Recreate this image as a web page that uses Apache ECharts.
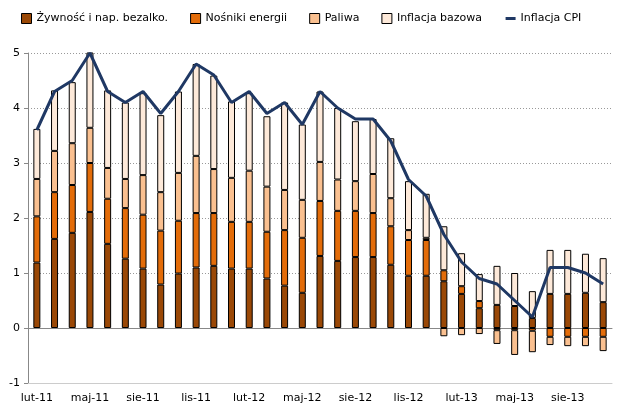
<!DOCTYPE html>
<html><head><meta charset="utf-8">
<script src="https://cdn.jsdelivr.net/npm/echarts@6/dist/echarts.min.js"></script>
<style>html,body{margin:0;padding:0;background:#fff}#c{width:622px;height:415px}</style>
</head><body><div id="c"></div>
<script>
const categories = ['lut-11','mar-11','kwi-11','maj-11','cze-11','lip-11','sie-11','wrz-11','paź-11','lis-11','gru-11',
'sty-12','lut-12','mar-12','kwi-12','maj-12','cze-12','lip-12','sie-12','wrz-12','paź-12','lis-12','gru-12',
'sty-13','lut-13','mar-13','kwi-13','maj-13','cze-13','lip-13','sie-13','wrz-13','paź-13'];
const food   = [1.19,1.62,1.73,2.11,1.53,1.26,1.08,0.79,0.99,1.10,1.13,1.08,1.08,0.90,0.77,0.64,1.31,1.22,1.29,1.29,1.15,0.95,0.95,0.85,0.62,0.36,0.42,0.40,0.18,0.62,0.62,0.64,0.47];
const energy = [0.84,0.85,0.87,0.89,0.82,0.92,0.98,0.98,0.96,0.99,0.96,0.85,0.85,0.85,1.01,1.00,1.00,0.91,0.84,0.80,0.70,0.65,0.65,0.20,0.14,0.13,-0.04,-0.04,-0.05,-0.16,-0.16,-0.16,-0.16];
const fuel   = [0.68,0.75,0.76,0.64,0.56,0.53,0.72,0.70,0.87,1.04,0.80,0.80,0.93,0.82,0.73,0.69,0.71,0.57,0.54,0.71,0.51,0.18,0.04,-0.15,-0.13,-0.11,-0.25,-0.45,-0.39,-0.15,-0.17,-0.17,-0.26];
const core   = [0.91,1.10,1.11,1.39,1.41,1.39,1.49,1.40,1.48,1.67,1.70,1.39,1.41,1.28,1.59,1.37,1.28,1.30,1.09,1.00,1.09,0.89,0.80,0.80,0.60,0.49,0.71,0.60,0.49,0.80,0.80,0.71,0.80];
const cpi    = [3.6,4.3,4.5,5.0,4.3,4.1,4.3,3.9,4.3,4.8,4.6,4.1,4.3,3.9,4.1,3.7,4.3,4.0,3.8,3.8,3.4,2.7,2.4,1.7,1.2,0.9,0.8,0.5,0.2,1.1,1.1,1.0,0.8];
const yTicks = [-1,0,1,2,3,4,5];

const font = 'Verdana, "DejaVu Sans", sans-serif';
const bar = (name, data, color) => ({
  name, type:'bar', stack:'s', data, barWidth:7,
  itemStyle:{color, borderColor:'#000', borderWidth:1}
});
const chart = echarts.init(document.getElementById('c'));
chart.setOption({
  animation:false,
  textStyle:{fontFamily:font},
  legend:{
    top:8, left:16, itemGap:22, itemWidth:10, itemHeight:10,
    textStyle:{fontSize:11, color:'#000', fontFamily:font},
    data:[
      {name:'Żywność i nap. bezalko.', icon:'rect', itemStyle:{borderColor:'#000',borderWidth:1}},
      {name:'Nośniki energii', icon:'rect', itemStyle:{borderColor:'#000',borderWidth:1}},
      {name:'Paliwa', icon:'rect', itemStyle:{borderColor:'#000',borderWidth:1}},
      {name:'Inflacja bazowa', icon:'rect', itemStyle:{borderColor:'#000',borderWidth:1}},
      {name:'Inflacja CPI', itemStyle:{opacity:0}, lineStyle:{width:3}}
    ]
  },
  grid:{left:28, right:10, top:53, bottom:32},
  xAxis:[
    {type:'category', data:categories, position:'bottom',
     axisLine:{onZero:true, lineStyle:{color:'#888'}},
     axisTick:{interval:2, length:5, lineStyle:{color:'#888'}},
     axisLabel:{show:false}},
    {type:'category', data:categories, position:'bottom', gridIndex:0,
     axisLine:{show:true, onZero:false, lineStyle:{color:'#ccc'}},
     axisTick:{interval:2, length:5, lineStyle:{color:'#ccc'}},
     axisLabel:{interval:2, fontSize:11, color:'#000', fontFamily:font, margin:10,
       formatter:(v,i)=>categories[i]}}
  ],
  yAxis:{type:'value', min:yTicks[0], max:yTicks[yTicks.length-1], interval:1,
    axisLine:{show:true, lineStyle:{color:'#888'}},
    axisTick:{show:true, length:4, lineStyle:{color:'#888'}},
    axisLabel:{fontSize:11, color:'#000', fontFamily:font, margin:8},
    splitLine:{lineStyle:{color:'#999', type:[1,2]}}},
  series:[
    bar('Żywność i nap. bezalko.', food, '#9A4806'),
    bar('Nośniki energii', energy, '#E36C09'),
    bar('Paliwa', fuel, '#FAC090'),
    bar('Inflacja bazowa', core, '#FDE9D9'),
    {name:'Inflacja CPI', type:'line', data:cpi, symbol:'none', z:5,
     lineStyle:{color:'#1F3864', width:3}, itemStyle:{color:'#1F3864'}}
  ]
});
</script></body></html>
